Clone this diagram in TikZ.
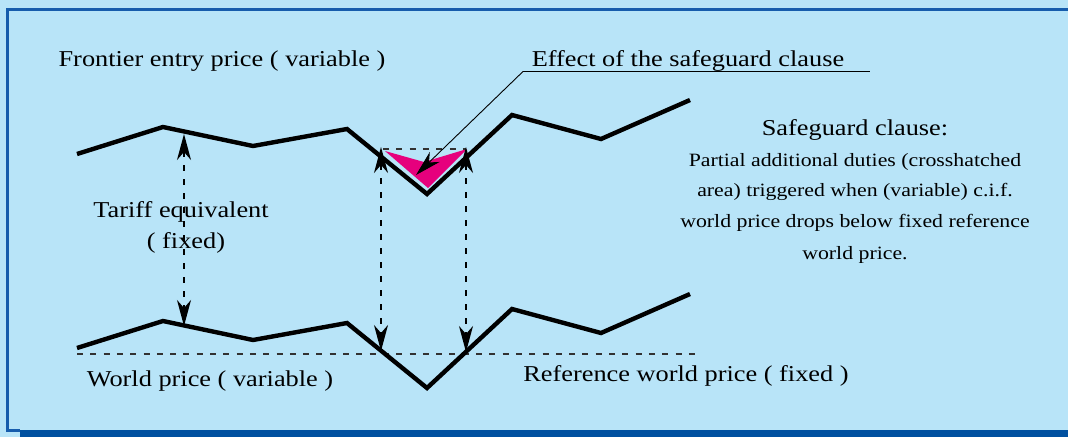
\documentclass[tikz,border=0pt]{standalone}
\usepackage{fontspec}
\setmainfont{Liberation Serif}[FakeStretch=1.16]
\usetikzlibrary{arrows.meta}
\definecolor{skyback}{RGB}{184,228,248}
\definecolor{frameblue}{RGB}{22,92,172}
\definecolor{shadeblue}{RGB}{0,80,160}
\definecolor{clausepink}{RGB}{230,0,125}
\definecolor{dashgrey}{RGB}{50,50,50}

\begin{document}
\begin{tikzpicture}[x=1pt,y=-1pt,
    price/.style={line width=4.4pt,line join=miter},
    tip/.tip={Stealth[length=26pt,width=14pt,inset=8pt]},
    guide/.style={line width=1.3pt,dash pattern=on 6pt off 8pt,tip-tip},
    level/.style={dashgrey,line width=1.3pt,dash pattern=on 6pt off 7.3pt},
    bigtext/.style={font=\fontsize{22.7}{27}\selectfont,inner sep=0pt,anchor=base},
    smalltext/.style={font=\fontsize{18.8}{22}\selectfont,inner sep=0pt,anchor=base}]

        \useasboundingbox (0,0) rectangle (1068,437);
        % background, shadow and frame
        \fill[skyback] (0,0) rectangle (1068,437);
        \fill[shadeblue] (20,430) rectangle (1068,437);
        \draw[frameblue,line width=3pt] (1068,9) -- (7,9) -- (7,430) -- (20,430);

        % frontier entry price
        \coordinate (T1) at (77,154);
        \coordinate (T2) at (163,127);
        \coordinate (T3) at (253,146);
        \coordinate (T4) at (347,129);
        \coordinate (T5) at (427,194);
        \coordinate (T6) at (512,115);
        \coordinate (T7) at (601,139);
        \coordinate (T8) at (690,100);
        % world price = frontier price - 194
        \coordinate (W1) at (77,348);
        \coordinate (W2) at (163,321);
        \coordinate (W3) at (253,340);
        \coordinate (W4) at (347,323);
        \coordinate (W5) at (427,388);
        \coordinate (W6) at (512,309);
        \coordinate (W7) at (601,333);
        \coordinate (W8) at (690,294);

        % crosshatched area
        \fill[clausepink] (385,151) -- (424,162) -- (467,149) -- (428,188) -- cycle;
        \draw[level,line width=1.1pt] (383,149) -- (466,149);
        \draw[level] (77,354) -- (695,354);

        \draw[price] (T1) -- (T2) -- (T3) -- (T4) -- (T5) -- (T6) -- (T7) -- (T8);
        \draw[price] (W1) -- (W2) -- (W3) -- (W4) -- (W5) -- (W6) -- (W7) -- (W8);

        \coordinate (TA) at (184,134);
        \coordinate (TB) at (184,326);
        \coordinate (LA) at (381,147);
        \coordinate (LB) at (381,351);
        \coordinate (RA) at (466,147);
        \coordinate (RB) at (466,352);
        \draw[guide] (TA) -- (TB);
        \draw[guide] (LA) -- (LB);
        \draw[guide] (RA) -- (RB);

        % label of the safeguard effect
        \coordinate (U1) at (523,71.5);
        \coordinate (U2) at (870,71.5);
        \coordinate (Tip) at (416,175);
        \draw[line width=0.9pt] (U1) -- (U2);
        \draw[line width=0.9pt,-tip] (U1) -- (Tip);

        \node[bigtext] (frontier) at (222,66.5) {Frontier entry price ( variable )};
        \node[bigtext] (effect) at (688,66.5) {Effect of the safeguard clause};
        \node[bigtext] (tariff) at (181,217.5) {Tariff equivalent};
        \node[bigtext] (fixed) at (186,248) {( fixed)};
        \node[bigtext] (world) at (210,386.7) {World price ( variable )};
        \node[bigtext] (reference) at (686,381.7) {Reference world price ( fixed )};
        \node[bigtext] (clause) at (855,135) {Safeguard clause:};
        \node[smalltext] (line1) at (855,166.7) {Partial additional duties (crosshatched};
        \node[smalltext] (line2) at (855,196.7) {area) triggered when (variable) c.i.f.};
        \node[smalltext] (line3) at (855,227.7) {world price drops below fixed reference};
        \node[smalltext] (line4) at (855,259) {world price.};

    \end{tikzpicture}
\end{document}
